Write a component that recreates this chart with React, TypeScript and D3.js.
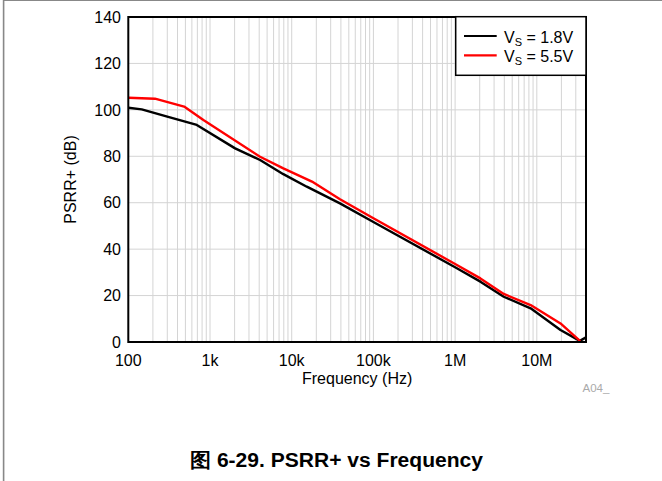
import React from "react";
import * as d3 from "d3";

const freq18 = [100, 146, 300, 689, 2030, 4100, 7900, 15300, 39000, 100000, 1000000, 2040000, 3940000, 8400000, 19500000, 33600000, 40000000];
const psrr18 = [100.9, 100.2, 97.1, 93.5, 83.4, 78.4, 72.3, 66.9, 59.7, 51.7, 32.2, 26.0, 19.5, 14.5, 5.2, 0.5, 2.0];

const freq55 = [100, 212, 482, 830, 4100, 7900, 17700, 39000, 100000, 1000000, 2040000, 3940000, 8400000, 19500000, 34000000];
const psrr55 = [105.2, 104.8, 101.4, 95.6, 79.8, 74.8, 69.1, 61.5, 53.3, 33.6, 27.4, 20.7, 15.9, 8.0, 0.4];

const yTicks = [0, 20, 40, 60, 80, 100, 120, 140];
const xTicks = [100, 1000, 10000, 100000, 1000000, 10000000];
const xTickLabels = ["100", "1k", "10k", "100k", "1M", "10M"];
const seriesNames = ["1.8V", "5.5V"];

const W = 662, H = 481;
const L = 128.3, R = 586, T = 17, B = 342;
const FONT = "'Liberation Sans', Arial, Helvetica, sans-serif";

export default function App() {
  const x = d3.scaleLog().domain([100, 40000000]).range([L, R]);
  const y = d3.scaleLinear().domain([0, 140]).range([B, T]);

  const minor: number[] = [];
  for (let e = 2; e <= 7; e++) {
    for (let m = 1; m <= 9; m++) {
      const f = m * Math.pow(10, e);
      if (f > 100 && f < 40000000) minor.push(f);
    }
  }

  const line = d3.line<[number, number]>().x(d => x(d[0])).y(d => y(d[1]));
  const d18 = line(freq18.map((f, i) => [f, psrr18[i]] as [number, number])) || "";
  const d55 = line(freq55.map((f, i) => [f, psrr55[i]] as [number, number])) || "";

  const legX = 455.7, legY = 16.7, legW = R - 455.7, legH = 58.6;

  return (
    <svg width={W} height={H} style={{ position: "absolute", left: 0, top: 0, background: "#fff" }} fontFamily={FONT}>
      <rect x={0} y={0} width={W} height={H} fill="#fff" />
      <line x1={3} y1={0.5} x2={W} y2={0.5} stroke="#888" strokeWidth={1.2} />
      <line x1={3.6} y1={0} x2={3.6} y2={H} stroke="#888" strokeWidth={1.6} />

      {minor.map((f, i) => (
        <line key={"v" + i} x1={x(f)} x2={x(f)} y1={T} y2={B} stroke="#d4d4d4" strokeWidth={1} />
      ))}
      {yTicks.map((t, i) => (
        <line key={"h" + i} x1={L} x2={R} y1={y(t)} y2={y(t)} stroke="#d4d4d4" strokeWidth={1} />
      ))}

      <path d={d18} fill="none" stroke="#000" strokeWidth={2.4} strokeLinejoin="round" />
      <path d={d55} fill="none" stroke="#f00" strokeWidth={2.4} strokeLinejoin="round" />

      <rect x={L} y={T} width={R - L} height={B - T} fill="none" stroke="#000" strokeWidth={2} />

      {yTicks.map((t, i) => (
        <text key={"yl" + i} x={121} y={y(t)} dy="0.36em" textAnchor="end" fontSize={16} fill="#000">{t}</text>
      ))}
      {xTicks.map((t, i) => (
        <text key={"xl" + i} x={x(t)} y={366} textAnchor="middle" fontSize={16} fill="#000">{xTickLabels[i]}</text>
      ))}

      <text x={(L + R) / 2} y={384} textAnchor="middle" fontSize={16} fill="#000">Frequency (Hz)</text>
      <text transform={`translate(76,${(T + B) / 2}) rotate(-90)`} textAnchor="middle" fontSize={16} fill="#000">PSRR+ (dB)</text>

      <rect x={legX} y={legY} width={legW} height={legH} fill="#fff" stroke="#000" strokeWidth={1.5} />
      {seriesNames.map((n, i) => (
        <g key={"lg" + i}>
          <line x1={464} x2={496.7} y1={36 + i * 19.3} y2={36 + i * 19.3} stroke={i === 0 ? "#000" : "#f00"} strokeWidth={2.2} />
          <text x={504} y={43.3 + i * 18.4} fontSize={16} fill="#000">
            V<tspan fontSize={11} dy={3}>S</tspan><tspan dy={-3}> = {n}</tspan>
          </text>
        </g>
      ))}

      <text x={582.5} y={392} fontSize={11.5} fill="#aaa">A04_</text>

      <text x={336.5} y={467} textAnchor="middle" fontSize={20} fontWeight="bold" fill="#000" textLength={293} lengthAdjust="spacingAndGlyphs">图 6-29. PSRR+ vs Frequency</text>
    </svg>
  );
}
